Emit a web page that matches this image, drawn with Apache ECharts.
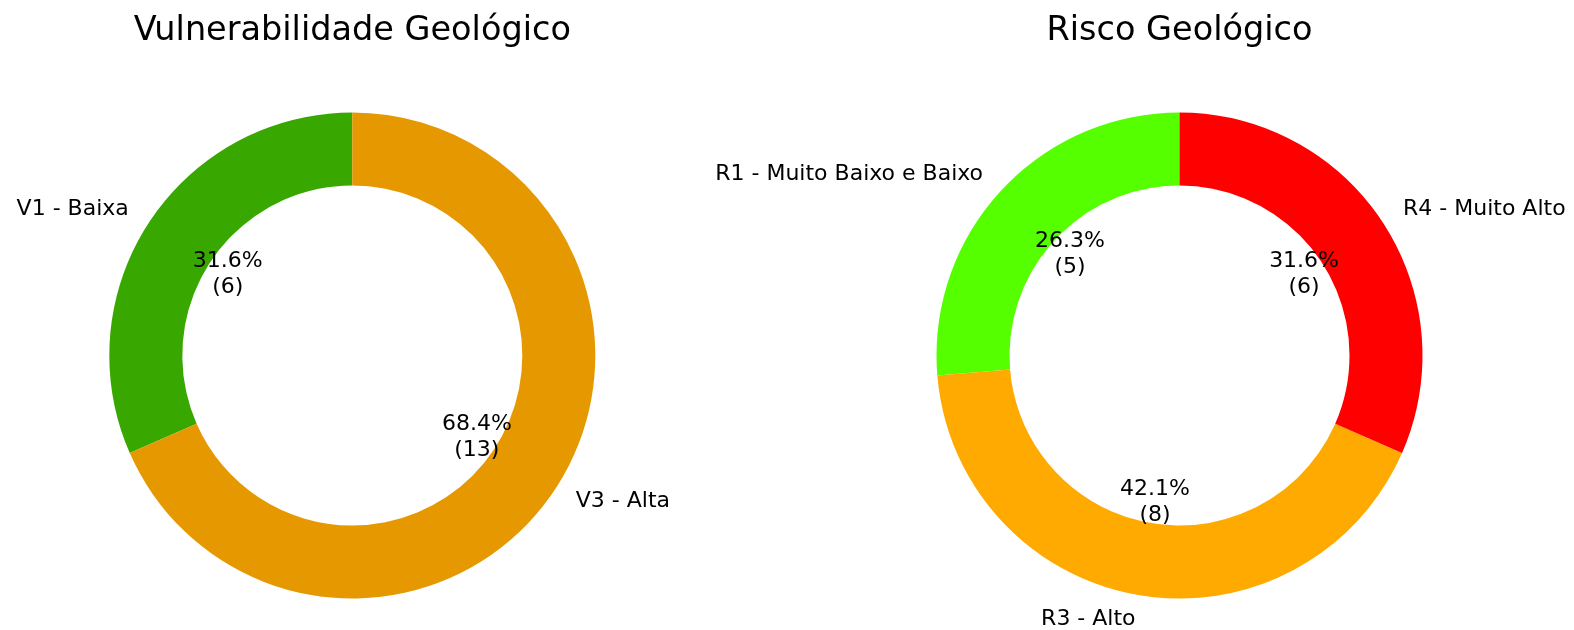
<!DOCTYPE html>
<html>
<head>
<meta charset="utf-8">
<script src="https://cdn.jsdelivr.net/npm/echarts@6/dist/echarts.min.js"></script>
<style>
  html, body { margin: 0; padding: 0; background: #fff; }
  #chart { width: 1574px; height: 630px; }
</style>
</head>
<body>
<div id="chart"></div>
<script>
var vulnTitle = 'Vulnerabilidade Geológico';
var vulnNames = ['V1 - Baixa', 'V3 - Alta'];
var vulnValues = [6, 13];
var vulnColors = ['#38A800', '#E69800'];

var riskTitle = 'Risco Geológico';
var riskNames = ['R1 - Muito Baixo e Baixo', 'R3 - Alto', 'R4 - Muito Alto'];
var riskValues = [5, 8, 6];
var riskColors = ['#55FF00', '#FFAA00', '#FF0000'];

(function() {
  var font = 'DejaVu Sans';
  var outerR = 243;
  var innerR = 170;
  var cy = 355.5;
  var leftCx = 352.3;
  var rightCx = 1179.5;

  function toData(names, values, colors) {
    return names.map(function(n, i) {
      return { name: n, value: values[i], itemStyle: { color: colors[i] } };
    });
  }

  // ring with the category names outside
  function ring(cx, data) {
    return {
      type: 'pie',
      center: [cx, cy],
      radius: [innerR, outerR],
      startAngle: 90,
      clockwise: false,
      avoidLabelOverlap: false,
      silent: true,
      animation: false,
      emphasis: { disabled: true },
      label: {
        show: true,
        position: 'outside',
        formatter: '{b}',
        color: '#000',
        fontFamily: font,
        fontSize: 22,
        distanceToLabelLine: 0
      },
      labelLine: { show: false, length: 24, length2: 0 },
      data: data
    };
  }

  // invisible ring that only carries the percentage labels (at 0.6 R)
  function pctRing(cx, data) {
    return {
      type: 'pie',
      center: [cx, cy],
      radius: [outerR * 0.6 - 6, outerR * 0.6 + 6],
      startAngle: 90,
      clockwise: false,
      avoidLabelOverlap: false,
      percentPrecision: 1,
      silent: true,
      animation: false,
      emphasis: { disabled: true },
      itemStyle: { color: 'rgba(0,0,0,0)' },
      label: {
        show: true,
        position: 'inside',
        formatter: '{d}%\n({c})',
        color: '#000',
        fontFamily: font,
        fontSize: 22,
        lineHeight: 26,
        align: 'center'
      },
      labelLine: { show: false },
      data: data.map(function(d) { return { name: d.name, value: d.value }; })
    };
  }

  var vulnData = toData(vulnNames, vulnValues, vulnColors);
  var riskData = toData(riskNames, riskValues, riskColors);

  var chart = echarts.init(document.getElementById('chart'), null, { renderer: 'canvas' });
  chart.setOption({
    animation: false,
    backgroundColor: '#fff',
    title: [
      {
        text: vulnTitle, left: leftCx, top: 14, textAlign: 'center', padding: 0,
        textStyle: { fontFamily: font, fontSize: 33.5, fontWeight: 'normal', color: '#000' }
      },
      {
        text: riskTitle, left: rightCx, top: 14, textAlign: 'center', padding: 0,
        textStyle: { fontFamily: font, fontSize: 33.5, fontWeight: 'normal', color: '#000' }
      }
    ],
    series: [
      ring(leftCx, vulnData),
      pctRing(leftCx, vulnData),
      ring(rightCx, riskData),
      pctRing(rightCx, riskData)
    ]
  });
})();
</script>
</body>
</html>
